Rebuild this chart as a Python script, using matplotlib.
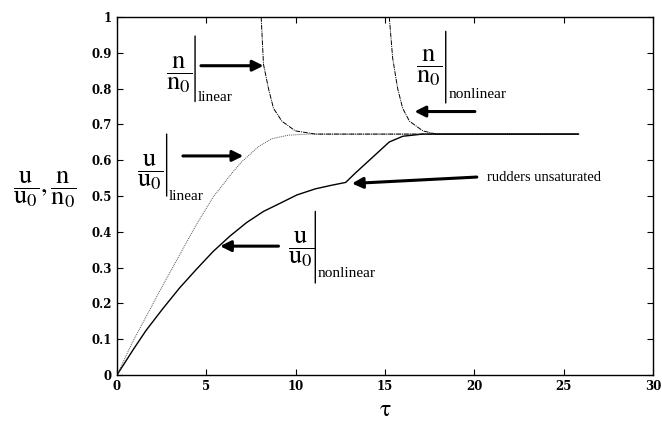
import numpy as np
import matplotlib
matplotlib.use("Agg")
import matplotlib.pyplot as plt

plt.rcParams['mathtext.fontset'] = 'stix'
plt.rcParams['mathtext.default'] = 'rm'
plt.rcParams['font.family'] = 'Liberation Serif'

# u/u0, nonlinear case (solid)
tau_u_nl = [0, 0.87, 1.62, 2.56, 3.5, 4.44, 5.38, 6.32, 7.26, 8.2, 9.14, 10.07, 11.1,
            12.0, 12.8, 13.36, 14.3, 15.24, 16.0, 17.1, 25.83]
u_nl = [0, 0.068, 0.124, 0.185, 0.243, 0.295, 0.345, 0.388, 0.426, 0.457, 0.48, 0.503, 0.52,
        0.53, 0.538, 0.565, 0.608, 0.651, 0.667, 0.673, 0.673]

# u/u0, linear case (dotted)
tau_u_l = [0, 0.87, 1.62, 2.56, 3.5, 4.44, 5.38, 6.5, 6.97, 7.92, 8.66, 9.6, 10.73, 25.83]
u_l = [0, 0.092, 0.162, 0.25, 0.335, 0.42, 0.497, 0.568, 0.595, 0.638, 0.66, 0.670, 0.673, 0.673]

# n/n0, linear case
tau_n_l = [8.07, 8.2, 8.48, 8.76, 9.23, 9.98, 11.11, 25.83]
n_l = [1.0, 0.868, 0.80, 0.745, 0.709, 0.682, 0.673, 0.673]

# n/n0, nonlinear case
tau_n_nl = [15.24, 15.43, 15.71, 15.99, 16.37, 17.12, 17.87, 25.83]
n_nl = [1.0, 0.885, 0.80, 0.745, 0.709, 0.682, 0.673, 0.673]

xticks = [0, 5, 10, 15, 20, 25, 30]
yticks = [0, 0.1, 0.2, 0.3, 0.4, 0.5, 0.6, 0.7, 0.8, 0.9, 1]
ylabels = ['0', '0.1', '0.2', '0.3', '0.4', '0.5', '0.6', '0.7', '0.8', '0.9', '1']

fig = plt.figure(figsize=(6.62, 4.26), dpi=100)
ax = fig.add_axes([0.1767, 0.1197, 0.8097, 0.8403])

ax.plot(tau_u_nl, u_nl, color='black', lw=1.0)
ax.plot(tau_u_l, u_l, color='#555555', lw=0.7, ls=(0, (1, 1)))
ax.plot(tau_n_l, n_l, color='black', lw=0.7, ls=(0, (5, 1, 1, 1)))
ax.plot(tau_n_nl, n_nl, color='black', lw=0.7, ls=(0, (5, 1, 1, 1)))

ax.set_xlim(0, 30)
ax.set_ylim(0, 1)
ax.set_xticks(xticks)
ax.set_yticks(yticks)
ax.set_yticklabels(ylabels)
ax.tick_params(direction='in', top=True, right=True, length=4, width=0.8)
for lab in ax.get_xticklabels() + ax.get_yticklabels():
    lab.set_fontfamily('DejaVu Serif')
    lab.set_fontweight('bold')
    lab.set_fontsize(8.5)
for s in ax.spines.values():
    s.set_linewidth(1.0)

ax.set_xlabel(r'$\tau$', fontsize=17, labelpad=5)
fig.text(0.068, 0.555, r'$\dfrac{u}{u_0},\dfrac{n}{n_0}$', fontsize=19,
         ha='center', va='center')

arrow = dict(arrowstyle='-|>', lw=2.2, color='black', mutation_scale=16,
             shrinkA=0, shrinkB=0)
bar = dict(arrowstyle='-', lw=1.0, color='black', shrinkA=0, shrinkB=0)


def label(frac, xc, yc, xbar, ybot, ytop, sub, xs, ys):
    ax.text(xc, yc, frac, fontsize=19, ha='center', va='center')
    ax.annotate('', xy=(xbar, ybot), xytext=(xbar, ytop), arrowprops=bar)
    ax.text(xs, ys, sub, fontsize=11, ha='left', va='center')


# n/n0 linear
label(r'$\dfrac{n}{n_0}$', 3.46, 0.84, 4.37, 0.764, 0.947, 'linear', 4.5, 0.775)
ax.annotate('', xy=(8.2, 0.864), xytext=(4.7, 0.864), arrowprops=arrow)

# u/u0 linear
label(r'$\dfrac{u}{u_0}$', 1.83, 0.567, 2.78, 0.50, 0.673, 'linear', 2.92, 0.50)
ax.annotate('', xy=(7.07, 0.612), xytext=(3.69, 0.612), arrowprops=arrow)

# n/n0 nonlinear
label(r'$\dfrac{n}{n_0}$', 17.44, 0.86, 18.4, 0.76, 0.96, 'nonlinear', 18.55, 0.783)
ax.annotate('', xy=(16.65, 0.736), xytext=(20.03, 0.736), arrowprops=arrow)

# u/u0 nonlinear
label(r'$\dfrac{u}{u_0}$', 10.28, 0.351, 11.1, 0.257, 0.457, 'nonlinear', 11.25, 0.283)
ax.annotate('', xy=(5.77, 0.36), xytext=(9.04, 0.36), arrowprops=arrow)

# rudders unsaturated
ax.text(20.7, 0.552, 'rudders unsaturated', fontsize=10.5, ha='left', va='center')
ax.annotate('', xy=(13.15, 0.535), xytext=(20.14, 0.553), arrowprops=arrow)

fig.savefig('out.png', dpi=100)
